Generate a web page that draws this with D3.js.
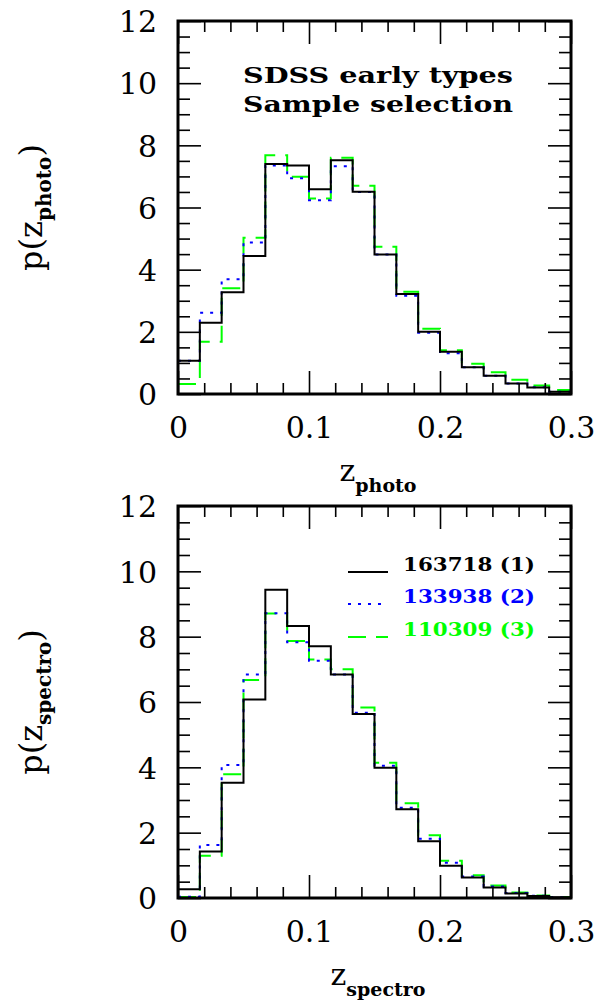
<!DOCTYPE html>
<html>
<head>
<meta charset="utf-8">
<script src="https://cdn.jsdelivr.net/npm/d3@7"></script>
<style>
  body { margin: 0; background: #fff; }
  svg { display: block; }
</style>
</head>
<body>
<script>
// histogram bins: 18 bins of width 1/60 from 0 to 0.3
const nBins = 18, binWidth = 0.3 / nBins;

// p(z_photo), top panel
const photoBlack = [1.07, 2.29, 3.27, 4.44, 7.40, 7.35, 6.59, 7.52, 6.51, 4.49, 3.22, 2.00, 1.36, 0.86, 0.59, 0.34, 0.21, 0.07];
const photoBlue  = [1.07, 2.61, 3.69, 4.87, 7.35, 6.94, 6.23, 7.33, 6.50, 4.49, 3.16, 1.97, 1.31, 0.86, 0.59, 0.34, 0.22, 0.07];
const photoGreen = [0.32, 1.68, 3.40, 5.03, 7.68, 6.99, 6.29, 7.60, 6.70, 4.74, 3.29, 2.10, 1.41, 0.97, 0.70, 0.46, 0.27, 0.13];

// p(z_spectro), bottom panel
const spectroBlack = [0.27, 1.42, 3.53, 6.08, 9.44, 8.33, 7.71, 6.84, 5.63, 3.99, 2.72, 1.74, 0.99, 0.63, 0.32, 0.14, 0.06, 0.02];
const spectroBlue  = [0.04, 1.62, 4.07, 6.84, 8.72, 7.83, 7.26, 6.84, 5.67, 4.05, 2.76, 1.81, 1.08, 0.66, 0.35, 0.15, 0.07, 0.02];
const spectroGreen = [0.03, 1.29, 3.79, 6.67, 8.71, 7.87, 7.30, 7.00, 5.83, 4.14, 2.90, 1.92, 1.14, 0.70, 0.38, 0.17, 0.08, 0.03];

const legendLabels = ["163718 (1)", "133938 (2)", "110309 (3)"];
const titleLines = ["SDSS early types", "Sample selection"];
const xTicks = [0, 0.1, 0.2, 0.3];
const xTickLabels = ["0", "0.1", "0.2", "0.3"];
const yTicks = [0, 2, 4, 6, 8, 10, 12];
const yTickLabels = ["0", "2", "4", "6", "8", "10", "12"];

// line styles for the three samples
const styles = [
  { color: "#000000", dash: null },
  { color: "#0000ff", dash: "3,7" },
  { color: "#00ff00", dash: "18,10" }
];

const serif = "'DejaVu Serif', serif";

var svg = d3.select("body").append("svg")
  .attr("width", 598)
  .attr("height", 1002);

var x = d3.scaleLinear().domain([0, 0.3]).range([178, 571]);

function stepPoints(vals) {
  var pts = vals.map(function(v, i) { return [i * binWidth, v]; });
  pts.push([nBins * binWidth, vals[vals.length - 1]]);
  return pts;
}

function drawPanel(top, bottom, series, ylab, sub) {
  var y = d3.scaleLinear().domain([0, 12]).range([bottom, top]);
  var g = svg.append("g");

  var line = d3.line()
    .x(function(d) { return x(d[0]); })
    .y(function(d) { return y(d[1]); })
    .curve(d3.curveStepAfter);

  // draw green first, black on top
  [2, 1, 0].forEach(function(k) {
    g.append("path")
      .attr("d", line(stepPoints(series[k])))
      .attr("fill", "none")
      .attr("stroke", styles[k].color)
      .attr("stroke-width", 2)
      .attr("stroke-dasharray", styles[k].dash);
  });

  var xMinor = d3.range(0, 0.3001, 0.02).filter(function(v) { return Math.abs(v * 10 - Math.round(v * 10)) > 1e-6; });
  var yMinor = d3.range(0, 12.01, 0.5).filter(function(v) { return v % 2 !== 0; });

  function ticks(axis, pos, vals, len, labels) {
    var a = g.append("g")
      .attr("transform", pos)
      .call(axis.tickValues(vals).tickSize(-len).tickFormat(labels ? function(d, i) { return labels[i]; } : ""));
    a.select(".domain").remove();
    a.selectAll("line").attr("stroke", "#000").attr("stroke-width", 1.6);
    return a;
  }

  // bottom
  ticks(d3.axisBottom(x), "translate(0," + bottom + ")", xMinor, 11);
  var bx = ticks(d3.axisBottom(x).tickPadding(23), "translate(0," + bottom + ")", xTicks, 23, xTickLabels);
  // top
  ticks(d3.axisTop(x), "translate(0," + top + ")", xMinor, 11);
  ticks(d3.axisTop(x), "translate(0," + top + ")", xTicks, 23);
  // left
  ticks(d3.axisLeft(y), "translate(178,0)", yMinor, 12);
  var ly = ticks(d3.axisLeft(y).tickPadding(21), "translate(178,0)", yTicks, 23, yTickLabels);
  // right
  ticks(d3.axisRight(y), "translate(571,0)", yMinor, 12);
  ticks(d3.axisRight(y), "translate(571,0)", yTicks, 23);

  bx.selectAll("text").attr("font-family", serif).attr("font-size", 30).attr("fill", "#000");
  ly.selectAll("text").attr("font-family", serif).attr("font-size", 30).attr("fill", "#000").attr("dy", "0.36em");

  // frame
  g.append("rect")
    .attr("x", 178).attr("y", top)
    .attr("width", 571 - 178).attr("height", bottom - top)
    .attr("fill", "none").attr("stroke", "#000").attr("stroke-width", 3);

  // x label
  var xl = g.append("text")
    .attr("x", 378).attr("y", bottom + 87)
    .attr("text-anchor", "middle")
    .attr("font-family", serif).attr("font-size", 30);
  xl.append("tspan").text("z");
  xl.append("tspan").attr("dy", 11).attr("font-size", 19).attr("font-weight", "bold").text(sub);

  // y label
  var yl = g.append("text")
    .attr("transform", "translate(42," + ((top + bottom) / 2) + ") rotate(-90)")
    .attr("text-anchor", "middle")
    .attr("font-family", serif).attr("font-size", 32);
  yl.append("tspan").text("p(z");
  yl.append("tspan").attr("dy", 9).attr("font-size", 20).attr("font-weight", "bold").text(sub);
  yl.append("tspan").attr("dy", -9).text(")");

  return { g: g, y: y };
}

var p1 = drawPanel(21, 394, [photoBlack, photoBlue, photoGreen], "p", "photo");
var p2 = drawPanel(506, 898, [spectroBlack, spectroBlue, spectroGreen], "p", "spectro");

// title text in the top panel
titleLines.forEach(function(t, i) {
  svg.append("text")
    .attr("x", 243).attr("y", 83 + i * 29)
    .attr("font-family", serif).attr("font-weight", "bold").attr("font-size", 22)
    .attr("textLength", 270).attr("lengthAdjust", "spacingAndGlyphs")
    .text(t);
});

// legend in the bottom panel
var legendY = [572, 604, 637];
legendLabels.forEach(function(t, i) {
  svg.append("line")
    .attr("x1", 348).attr("x2", 388)
    .attr("y1", legendY[i]).attr("y2", legendY[i])
    .attr("stroke", styles[i].color).attr("stroke-width", 2)
    .attr("stroke-dasharray", styles[i].dash);
  svg.append("text")
    .attr("x", 403).attr("y", legendY[i] - 1)
    .attr("font-family", serif).attr("font-weight", "bold").attr("font-size", 19)
    .attr("textLength", 132).attr("lengthAdjust", "spacingAndGlyphs")
    .attr("fill", styles[i].color)
    .text(t);
});
</script>
</body>
</html>
